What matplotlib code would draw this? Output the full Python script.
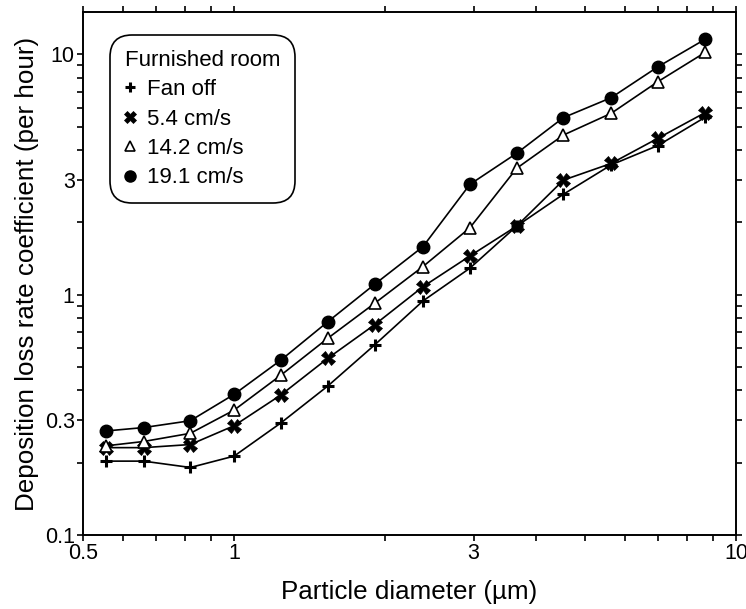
import numpy as np
import matplotlib
matplotlib.use("Agg")
import matplotlib.pyplot as plt
from matplotlib.ticker import FixedLocator, FixedFormatter, LogLocator, NullFormatter
from matplotlib.lines import Line2D

plt.rcParams['font.family'] = ['Liberation Sans', 'DejaVu Sans']

# Particle diameter (um)
diameter = [0.555, 0.66, 0.818, 1.0, 1.24, 1.537, 1.905, 2.378, 2.95, 3.656, 4.53, 5.64, 6.99, 8.68]

# Deposition loss rate coefficient (per hour)
fan_off = [0.203, 0.203, 0.191, 0.213, 0.293, 0.417, 0.618, 0.942, 1.29, 1.93, 2.62, 3.47, 4.18, 5.48]
fan_5_4 = [0.231, 0.231, 0.238, 0.285, 0.383, 0.544, 0.750, 1.08, 1.45, 1.93, 3.00, 3.52, 4.48, 5.73]
fan_14_2 = [0.235, 0.245, 0.265, 0.331, 0.463, 0.659, 0.921, 1.31, 1.90, 3.36, 4.62, 5.69, 7.71, 10.2]
fan_19_1 = [0.271, 0.280, 0.299, 0.385, 0.535, 0.772, 1.105, 1.585, 2.88, 3.88, 5.46, 6.61, 8.89, 11.57]

labels = ['Fan off', '5.4 cm/s', '14.2 cm/s', '19.1 cm/s']
xticks = [0.5, 1, 3, 10]
yticks = [0.1, 0.3, 1, 3, 10]

fig = plt.figure(figsize=(7.46, 6.09), dpi=100)
ax = fig.add_axes([0.1113, 0.1215, 0.8753, 0.8585])

lw = 1.2
ax.plot(diameter, fan_off, color='k', lw=lw, marker='+', ms=8, mew=2.2, zorder=3)
ax.plot(diameter, fan_5_4, color='k', lw=lw, marker='X', ms=10, mew=0.5, mfc='k', mec='k', zorder=3)
ax.plot(diameter, fan_14_2, color='k', lw=lw, marker='^', ms=8, mew=1.2, mfc='white', mec='k', zorder=4)
ax.plot(diameter, fan_19_1, color='k', lw=lw, marker='o', ms=9, mfc='k', mec='k', zorder=5)

ax.set_xscale('log')
ax.set_yscale('log')
ax.set_xlim(0.5, 10)
ax.set_ylim(0.1, 15)

ax.xaxis.set_major_locator(FixedLocator(xticks))
ax.xaxis.set_major_formatter(FixedFormatter([str(t) for t in xticks]))
ax.xaxis.set_minor_locator(LogLocator(base=10, subs=np.arange(2, 10)))
ax.xaxis.set_minor_formatter(NullFormatter())
ax.yaxis.set_major_locator(FixedLocator(yticks))
ax.yaxis.set_major_formatter(FixedFormatter([str(t) for t in yticks]))
ax.yaxis.set_minor_locator(LogLocator(base=10, subs=np.arange(2, 10)))
ax.yaxis.set_minor_formatter(NullFormatter())

ax.tick_params(which='both', direction='out', top=True, right=True, width=1.2, length=4)
ax.tick_params(which='major', labelsize=15.5, pad=2)
for sp in ax.spines.values():
    sp.set_linewidth(1.4)

ax.set_xlabel('Particle diameter (µm)', fontsize=18.7, labelpad=11)
ax.set_ylabel('Deposition loss rate coefficient (per hour)', fontsize=18.7, labelpad=4)

handles = [
    Line2D([], [], ls='none', color='k', marker='+', ms=7, mew=2.2),
    Line2D([], [], ls='none', color='k', marker='X', ms=8, mew=0.5),
    Line2D([], [], ls='none', color='k', marker='^', ms=7, mew=1.2, mfc='white'),
    Line2D([], [], ls='none', color='k', marker='o', ms=8),
]
leg = ax.legend(handles, labels, title='Furnished room', loc='upper left',
                bbox_to_anchor=(0.042, 0.956), borderaxespad=0,
                fontsize=16, title_fontsize=16,
                alignment='left', handlelength=0.5, handletextpad=0.5,
                labelspacing=0.38, borderpad=0.65, fancybox=True, framealpha=1,
                edgecolor='k')
leg.get_frame().set_linewidth(1.2)
leg.get_frame().set_boxstyle('round,pad=0.02,rounding_size=1.0')

fig.savefig('out.png', dpi=100)
